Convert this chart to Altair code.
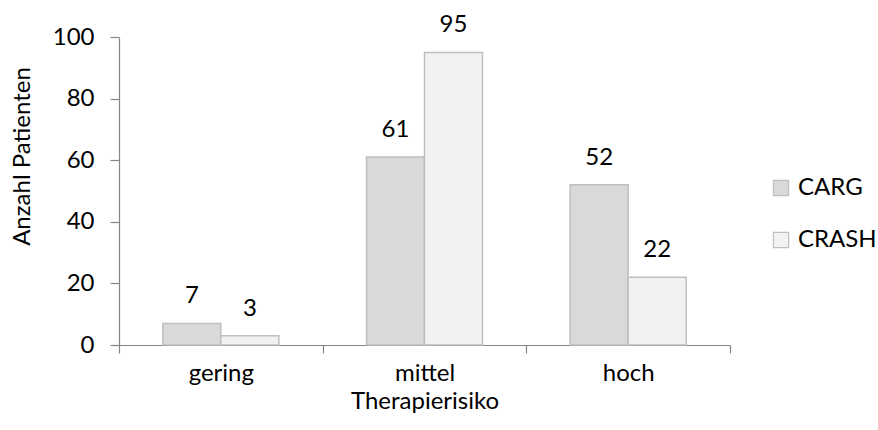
import altair as alt
import pandas as pd

# Therapy-risk groups and patient counts per score
categories = ["gering", "mittel", "hoch"]
series = ["CARG", "CRASH"]
carg_values = [7, 61, 52]
crash_values = [3, 95, 22]

rows = []
for cat, a, b in zip(categories, carg_values, crash_values):
    rows.append({"Therapierisiko": cat, "Score": "CARG", "Anzahl": a})
    rows.append({"Therapierisiko": cat, "Score": "CRASH", "Anzahl": b})
df = pd.DataFrame(rows)

FONT = "Lato"
FS = 24
AXIS_GRAY = "#868686"

# Category bands touch each other so ticks sit on the band boundaries;
# the gap around each pair of bars comes from the offset scale's outer padding.
x_enc = alt.X(
    "Therapierisiko:N",
    sort=categories,
    title="Therapierisiko",
    scale=alt.Scale(paddingInner=0, paddingOuter=0),
    axis=alt.Axis(
        labelAngle=0,
        tickBand="extent",
        tickSize=8,
        labelPadding=8,
        titlePadding=4,
        domainColor=AXIS_GRAY,
        tickColor=AXIS_GRAY,
        domainWidth=1.2,
        tickWidth=1.2,
    ),
)
xoff = alt.XOffset(
    "Score:N",
    sort=series,
    scale=alt.Scale(paddingInner=0, paddingOuter=0.756),
)
y_enc = alt.Y(
    "Anzahl:Q",
    title="Anzahl Patienten",
    scale=alt.Scale(domain=[0, 100], nice=False),
    axis=alt.Axis(
        values=[0, 20, 40, 60, 80, 100],
        grid=False,
        tickSize=9,
        labelPadding=16,
        domainColor=AXIS_GRAY,
        tickColor=AXIS_GRAY,
        domainWidth=1.2,
        tickWidth=1.2,
        titleX=-97,
        titleY=119,
        titleAngle=-90,
        titleAlign="center",
        titleBaseline="middle",
    ),
)

bars = alt.Chart(df).mark_bar(stroke="#bfbfbf", strokeWidth=1.5).encode(
    x=x_enc,
    xOffset=xoff,
    y=y_enc,
    fill=alt.Fill(
        "Score:N",
        sort=series,
        scale=alt.Scale(domain=series, range=["#d9d9d9", "#f2f2f2"]),
        legend=alt.Legend(
            title=None,
            orient="none",
            legendX=650,
            legendY=139,
            symbolType="square",
            symbolSize=230,
            symbolStrokeColor="#bfbfbf",
            symbolStrokeWidth=1.2,
            rowPadding=28,
            labelOffset=5,
        ),
    ),
)

labels = alt.Chart(df).mark_text(
    baseline="alphabetic", dy=-20, font=FONT, fontSize=FS, color="#000000"
).encode(
    x=alt.X("Therapierisiko:N", sort=categories),
    xOffset=xoff,
    y="Anzahl:Q",
    text="Anzahl:Q",
)

chart = (
    alt.layer(bars, labels)
    .properties(
        width=611,
        height=308,
        autosize=alt.AutoSizeParams(type="none"),
        padding={"left": 119, "top": 37, "right": 148, "bottom": 85},
        background="white",
    )
    .configure_view(stroke=None)
    .configure_axis(
        labelFont=FONT,
        titleFont=FONT,
        labelFontSize=FS,
        titleFontSize=FS,
        labelColor="#000000",
        titleColor="#000000",
        titleFontWeight="normal",
    )
    .configure_legend(labelFont=FONT, labelFontSize=FS, labelColor="#000000")
)

chart.save("out.html", embed_options={"renderer": "svg", "actions": False})
